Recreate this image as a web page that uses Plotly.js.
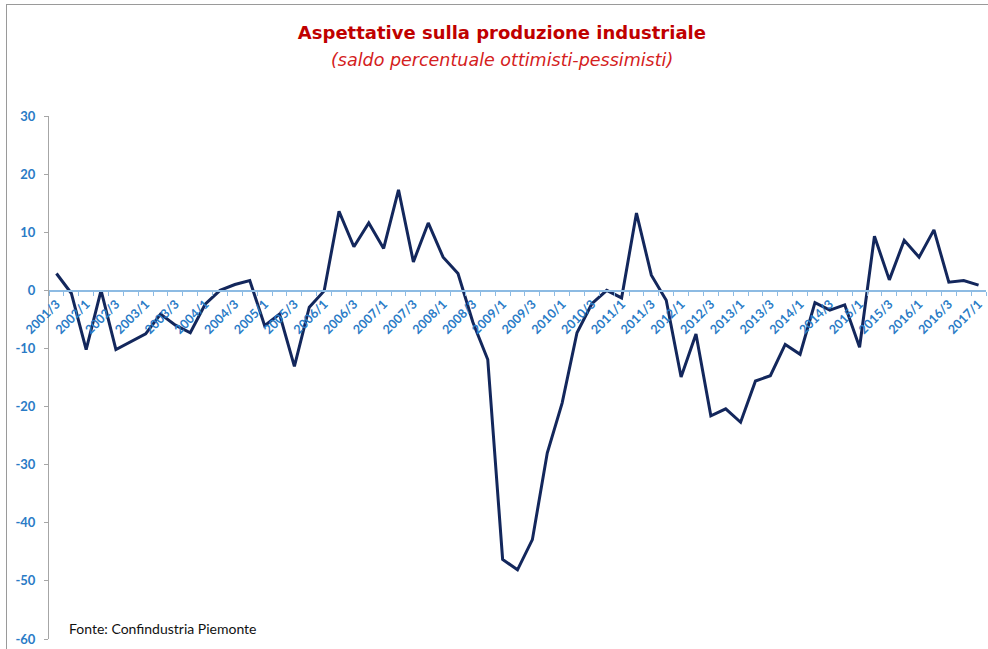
<!DOCTYPE html>
<html><head><meta charset="utf-8">
<script src="https://cdn.plot.ly/plotly-3.0.1.min.js"></script>
<style>
html,body{margin:0;padding:0;background:#fff;overflow:hidden;}
#chart{width:988px;height:649px;}
#frame{position:absolute;left:6px;top:4px;width:1000px;height:700px;border-left:1.5px solid #9a9a9a;border-top:1.5px solid #9a9a9a;pointer-events:none;}
</style>
</head><body>
<div id="chart"></div><div id="frame"></div>
<script>
const categories = [
  "2001/3","2001/4",
  "2002/1","2002/2","2002/3","2002/4",
  "2003/1","2003/2","2003/3","2003/4",
  "2004/1","2004/2","2004/3","2004/4",
  "2005/1","2005/2","2005/3","2005/4",
  "2006/1","2006/2","2006/3","2006/4",
  "2007/1","2007/2","2007/3","2007/4",
  "2008/1","2008/2","2008/3","2008/4",
  "2009/1","2009/2","2009/3","2009/4",
  "2010/1","2010/2","2010/3","2010/4",
  "2011/1","2011/2","2011/3","2011/4",
  "2012/1","2012/2","2012/3","2012/4",
  "2013/1","2013/2","2013/3","2013/4",
  "2014/1","2014/2","2014/3","2014/4",
  "2015/1","2015/2","2015/3","2015/4",
  "2016/1","2016/2","2016/3","2016/4",
  "2017/1"
];
const saldo = [
  2.9, -0.5, -10.2, 0.0, -10.2, -8.9, -7.5, -4.1, -6.0, -7.3,
  -2.4, 0.0, 1.0, 1.7, -6.1, -4.1, -13.1, -2.9, -0.1, 13.6,
  7.5, 11.6, 7.2, 17.3, 4.9, 11.6, 5.7, 2.9, -5.5, -11.9,
  -46.3, -48.1, -42.9, -28.0, -19.4, -7.3, -2.3, 0.0, -1.3, 13.3,
  2.6, -1.7, -14.9, -7.5, -21.6, -20.4, -22.7, -15.6, -14.7, -9.3,
  -11.0, -2.1, -3.4, -2.5, -9.8, 9.3, 1.8, 8.6, 5.7, 10.4,
  1.4, 1.7, 0.9
];
const yTicks = [30, 20, 10, 0, -10, -20, -30, -40, -50, -60];
const titleText = "Aspettative sulla produzione industriale";
const subtitleText = "(saldo percentuale ottimisti-pessimisti)";
const sourceText = "Fonte: Confindustria Piemonte";

const xIdx = categories.map((c, i) => i);
const labelIdx = xIdx.filter(i => i % 2 === 0);
const labelText = labelIdx.map(i => "<b>" + categories[i] + "</b>");

const yMin = -60, yMax = 30;
const blue = "#2A7BC6";

const trace = {
  x: xIdx, y: saldo, type: "scatter", mode: "lines",
  line: {color: "#13275C", width: 3},
  hoverinfo: "skip"
};

const layout = {
  width: 988, height: 649,
  margin: {l: 49, r: 2, t: 116, b: 10},
  paper_bgcolor: "#fff", plot_bgcolor: "#fff",
  showlegend: false,
  title: {
    text: "<b>" + titleText + "</b>",
    font: {family: "DejaVu Sans", size: 18, color: "#C00000"},
    xref: "container", x: 0.508, xanchor: "center",
    yref: "container", y: 1 - 33/649, yanchor: "middle"
  },
  annotations: [
    {text: "<i>" + subtitleText + "</i>", xref: "paper", yref: "paper",
     x: (502 - 49) / 937, y: (639 - 60) / 523, xanchor: "center", yanchor: "middle",
     showarrow: false, font: {family: "DejaVu Sans", size: 17.5, color: "#D42020"}},
    {text: sourceText, xref: "paper", yref: "paper",
     x: (67 - 49) / 937, y: (639 - 628) / 523, xanchor: "left", yanchor: "middle",
     showarrow: false, font: {family: "Lato", size: 14, color: "#111"}}
  ],
  xaxis: {
    range: [-0.5, categories.length - 0.5],
    anchor: "free", position: (0 - yMin) / (yMax - yMin),
    showgrid: false, zeroline: false,
    showline: true, linecolor: "#8DBBE3", linewidth: 1.5,
    tickmode: "array", tickvals: labelIdx, ticktext: labelText,
    tickangle: -45, ticks: "outside", ticklen: 0, tickcolor: "#8DBBE3",
    tickfont: {family: "Lato", size: 12.5, color: blue},
    minor: {tickmode: "linear", tick0: -0.5, dtick: 1, ticks: "outside",
            ticklen: 4, tickcolor: "#8DBBE3", tickwidth: 1, showgrid: false},
    fixedrange: true
  },
  yaxis: {
    range: [yMin, yMax],
    tickmode: "array", tickvals: yTicks, ticktext: yTicks.map(v => "<b>" + v + "</b>"),
    showgrid: false, zeroline: false,
    showline: true, linecolor: "#A6A6A6", linewidth: 1,
    ticks: "outside", ticklen: 4, tickcolor: "#A6A6A6",
    ticklabelstandoff: 6,
    tickfont: {family: "Lato", size: 13, color: blue},
    fixedrange: true
  }
};

Plotly.newPlot("chart", [trace], layout, {displayModeBar: false, staticPlot: true});
</script>
</body></html>
